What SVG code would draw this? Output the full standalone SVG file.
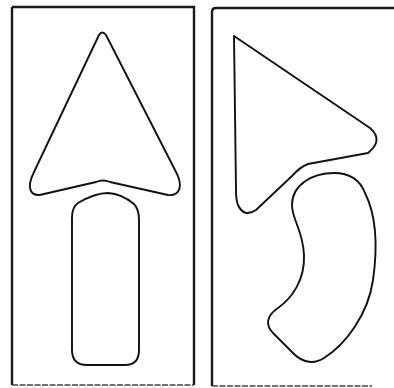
<svg xmlns="http://www.w3.org/2000/svg" width="394" height="388" viewBox="0 0 394 388">
<style>
.frame{fill:none;stroke:#1a1a1a;stroke-width:2.4}
.faint{fill:none;stroke:#444;stroke-width:1.5;stroke-dasharray:6 1.5}
.shape{fill:none;stroke:#111;stroke-width:1.9;stroke-linejoin:round}
</style>
<rect width="394" height="388" fill="#fff"/>
<g id="left-panel">
<path class="frame" d="M12 7 H194 V385"/>
<path class="frame" d="M12 7 V385"/>
<path class="faint" d="M12 385 H194"/>
<path id="arrowhead" class="shape" d="M99 35 Q102 30 106 35 L175 170 C184 186 180 196 168 195 L110 182 Q103 179 96 182 L44 194 C30 198 26 188 34 172 Z"/>
<path id="shaft" class="shape" d="M78 203 Q95 193 108 193 Q122 194 134 204 Q139 209 139 220 V350 Q139 365 125 365 H87 Q72 365 72 350 V218 Q72 207 78 203 Z"/>
</g>
<g id="right-panel">
<path class="frame" d="M396 8 H216 Q212 8 212 12 V386"/>
<path class="faint" d="M212 386 H372"/>
<path id="triangle" class="shape" d="M234 36 L370 128 Q384 140 368 153 L308 164 Q300 167 292 176 L256 210 Q244 218 238 205 Q236 200 236 190 Z"/>
<path id="bean" class="shape" d="M334 173 C312 173 292 185 292 205 C292 220 303 230 304 255 C305 280 292 298 278 308 C266 316 265 326 274 334 L291 351 C300 361 312 366 324 358 C345 345 368 315 373 280 C378 245 376 215 365 193 C360 180 350 173 334 173 Z"/>
</g>
</svg>
